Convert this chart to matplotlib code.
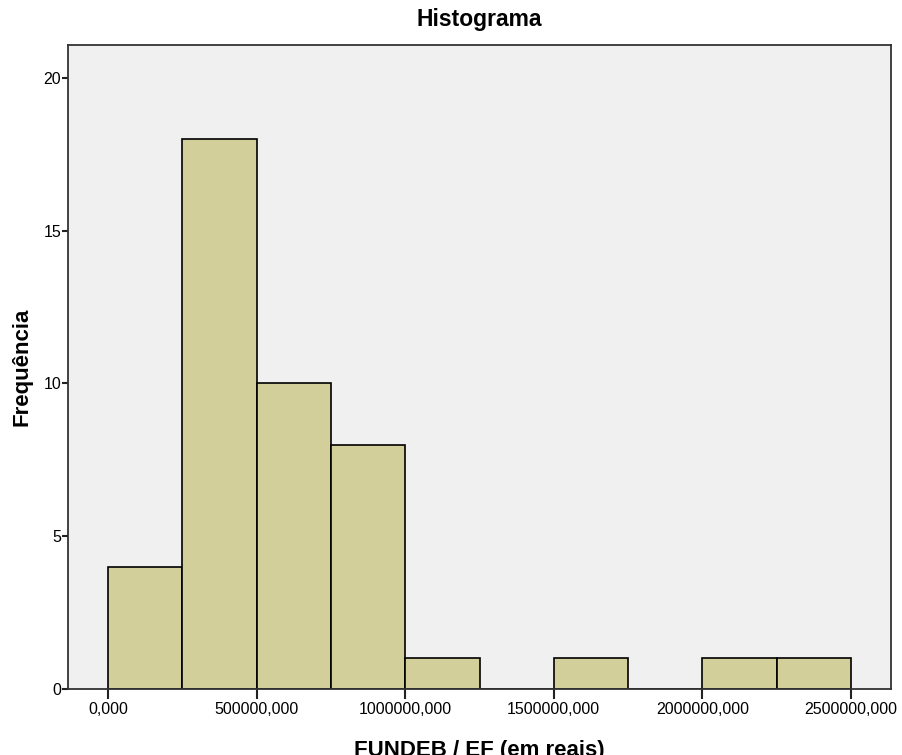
import matplotlib
matplotlib.use("Agg")
import matplotlib.pyplot as plt
import numpy as np

# histogram bins (reais) and frequencies
bin_edges = [0, 250000, 500000, 750000, 1000000, 1250000, 1500000,
             1750000, 2000000, 2250000, 2500000]
counts = [4, 18, 10, 8, 1, 0, 1, 0, 1, 1]

x_ticks = [0, 500000, 1000000, 1500000, 2000000, 2500000]
x_tick_labels = ["0,000", "500000,000", "1000000,000", "1500000,000",
                 "2000000,000", "2500000,000"]
y_ticks = [0, 5, 10, 15, 20]

plt.rcParams['font.family'] = ['Liberation Sans', 'DejaVu Sans']

fig = plt.figure(figsize=(9.02, 7.55), dpi=100)
ax = fig.add_axes([68 / 902, 66 / 755, 823 / 902, 644 / 755])
ax.set_facecolor('#F0F0F0')

edges = np.array(bin_edges)
ax.bar(edges[:-1], counts, width=np.diff(edges), align='edge',
       color='#D3CF9B', edgecolor='black', linewidth=1.2)

ax.set_xlim(-134600, 2634600)
ax.set_ylim(0, 21.08)

ax.set_xticks(x_ticks)
ax.set_xticklabels(x_tick_labels, fontsize=11.5)
ax.set_yticks(y_ticks)
ax.set_yticklabels([str(v) for v in y_ticks], fontsize=11.5)
ax.tick_params(axis='x', length=7, width=1.5, pad=2, color='#222222')
ax.tick_params(axis='y', length=4, width=1.5, pad=1, color='#222222')

for sp in ax.spines.values():
    sp.set_color('#333333')
    sp.set_linewidth(1.3)

ax.set_title('Histograma', fontsize=16.5, fontweight='bold', pad=14)
ax.set_ylabel('Frequência', fontsize=16, fontweight='bold', labelpad=8)
ax.set_xlabel('FUNDEB / EF (em reais)', fontsize=16, fontweight='bold', labelpad=17)

fig.savefig('out.png', dpi=100)
